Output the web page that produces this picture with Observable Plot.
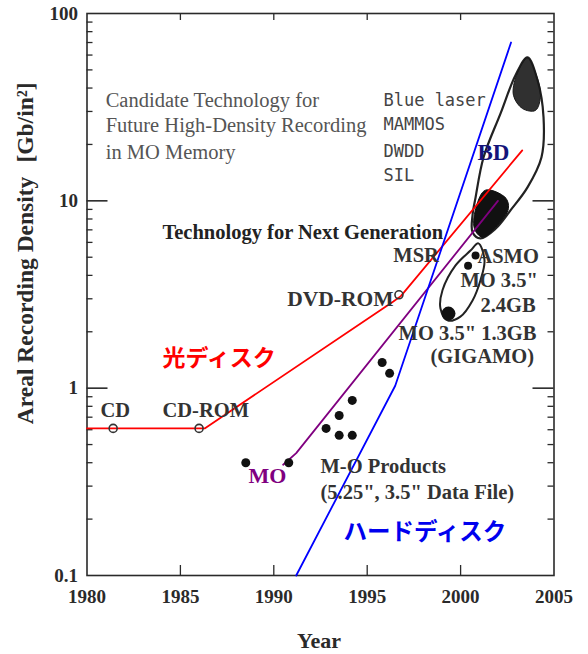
<!DOCTYPE html>
<html><head><meta charset="utf-8">
<script src="https://cdn.jsdelivr.net/npm/d3@7"></script>
<script src="https://cdn.jsdelivr.net/npm/@observablehq/plot@0.6"></script>
<style>body{margin:0;background:#fff}</style>
</head><body><div id="chart"></div>
<script>
// ---- data ----
const yearTicks = [1980, 1985, 1990, 1995, 2000, 2005];
const innerYearTicks = [1985, 1990, 1995, 2000];
const densityTicks = [0.1, 1, 10, 100];
const majorInnerTicks = [1, 10];
const minorTicks = [0.2,0.3,0.4,0.5,0.6,0.7,0.8,0.9, 2,3,4,5,6,7,8,9, 20,30,40,50,60,70,80,90];

const opticalDisk = [ // 光ディスク (red)
  {year: 1980.0, v: 0.61}, {year: 1986.3, v: 0.61}, {year: 1996.4, v: 2.9},
  {year: 1996.8, v: 3.1}, {year: 2003.3, v: 18.6}
];
const moTrend = [ // MO (purple)
  {year: 1990.5, v: 0.39}, {year: 1991.2, v: 0.45}, {year: 2002.0, v: 10.0}
];
const hardDisk = [ // ハードディスク (blue)
  {year: 1991.2, v: 0.1}, {year: 1996.5, v: 1.03}, {year: 2002.7, v: 70}
];
const openProducts = [
  {name: "CD", year: 1981.4, v: 0.61},
  {name: "CD-ROM", year: 1986.0, v: 0.61},
  {name: "DVD-ROM", year: 1996.7, v: 3.15}
];
const moProducts = [
  {year: 1988.5, v: 0.40}, {year: 1990.8, v: 0.40}, {year: 1992.8, v: 0.61},
  {year: 1993.5, v: 0.715}, {year: 1994.2, v: 0.86}, {year: 1993.5, v: 0.56},
  {year: 1994.2, v: 0.56}, {year: 1995.8, v: 1.37}, {year: 1996.2, v: 1.20}
];
const nextGenDots = [ // MO 3.5" 2.4GB, ASMO
  {year: 2000.8, v: 5.1}, {year: 2000.4, v: 4.5}
];
const gigamoSpot = [{year: 1999.35, v: 2.5}];
const candidateLoop = [
  {year: 2003.58, v: 58.4}, {year: 2004.12, v: 44}, {year: 2004.44, v: 27.9},
  {year: 2004.33, v: 17.1}, {year: 2003.58, v: 11.8}, {year: 2002.67, v: 8.9},
  {year: 2001.87, v: 7.1}, {year: 2001.06, v: 6.3}, {year: 2000.64, v: 6.8},
  {year: 2000.64, v: 8.4}, {year: 2000.80, v: 10.4}, {year: 2001.23, v: 17.1},
  {year: 2002.14, v: 29.3}, {year: 2002.94, v: 46.8}
];
const candidateTopBlob = [
  {year: 2003.58, v: 58}, {year: 2004.06, v: 46.7}, {year: 2004.28, v: 36.6},
  {year: 2004.01, v: 30.4}, {year: 2003.31, v: 31.1}, {year: 2002.83, v: 36.6},
  {year: 2002.99, v: 46.7}
];
const nextGenBlob = [
  {year: 2001.33, v: 11.4}, {year: 2002.40, v: 10.4}, {year: 2002.56, v: 9.1},
  {year: 2001.98, v: 7.4}, {year: 2001.17, v: 6.4}, {year: 2000.74, v: 7.1},
  {year: 2000.85, v: 9.4}
];
const nextGenLoop = [
  {year: 2000.95, v: 5.93}, {year: 2000.53, v: 5.43}, {year: 1999.73, v: 4.52},
  {year: 1999.03, v: 3.33}, {year: 1998.92, v: 2.67}, {year: 1999.30, v: 2.30},
  {year: 1999.99, v: 2.41}, {year: 2000.64, v: 2.94}, {year: 2001.06, v: 3.76},
  {year: 2001.28, v: 4.81}
];

const greyNotes = [
  {t: "Candidate Technology for", year: 1981.0, v: 34.4},
  {t: "Future High-Density Recording", year: 1981.0, v: 25.3},
  {t: "in MO Memory", year: 1981.0, v: 18.1}
];
const candidateTech = [
  {t: "Blue laser", year: 1995.87, v: 34.4},
  {t: "MAMMOS", year: 1995.87, v: 25.6},
  {t: "DWDD", year: 1995.87, v: 18.4},
  {t: "SIL", year: 1995.87, v: 13.7}
];
const darkNotes = [
  {t: "MSR", year: 1996.4, v: 5.11},
  {t: "ASMO", year: 2000.90, v: 5.05},
  {t: "MO 3.5\"", year: 1999.99, v: 3.76},
  {t: "2.4GB", year: 2001.06, v: 2.77},
  {t: "MO 3.5\" 1.3GB", year: 1996.68, v: 1.96},
  {t: "(GIGAMO)", year: 1998.39, v: 1.475},
  {t: "CD", year: 1980.72, v: 0.76},
  {t: "CD-ROM", year: 1984.04, v: 0.76},
  {t: "M-O Products", year: 1992.5, v: 0.382},
  {t: "(5.25\", 3.5\" Data File)", year: 1992.5, v: 0.277}
];
const dvdNote = [{t: "DVD-ROM", year: 1996.41, v: 2.98}];
const headline = [{t: "Technology for Next Generation", year: 1984.04, v: 6.78}];
const seriesNotes = [
  {t: "光ディスク", year: 1984.04, v: 1.44, c: "#ff0000", f: "Noto Sans CJK JP", s: 23},
  {t: "ハードディスク", year: 1993.73, v: 0.170, c: "#0000ee", f: "Noto Sans CJK JP", s: 23.5},
  {t: "MO", year: 1988.65, v: 0.342, c: "#800080", f: "Liberation Serif", s: 22},
  {t: "BD", year: 2000.9, v: 18.1, c: "#14147a", f: "Liberation Serif", s: 23}
];
const yLabel = [
  {t: "Areal Recording Density", v: 2.94},
  {t: "[Gb/in²]", v: 26.2}
];
const xLabel = [{t: "Year", year: 1992.42}];

// ---- layout ----
const W = 588, H = 654, mL = 86.5, mR = 34.5, mT = 13, mB = 79;
const pw = W - mL - mR, ph = H - mT - mB;
const ink = "#2a2a2a";
const serif = "Liberation Serif";

const chart = Plot.plot({
  width: W, height: H,
  marginLeft: mL, marginRight: mR, marginTop: mT, marginBottom: mB,
  x: {domain: [1980, 2005]},
  y: {type: "log", domain: [0.1, 100]},
  style: {fontFamily: serif, background: "#fff", color: ink},
  marks: [
    Plot.frame({stroke: ink, strokeWidth: 1.6}),
    Plot.tickY(majorInnerTicks, {y: d => d, insetRight: pw - 21, stroke: ink, strokeWidth: 1.6}),
    Plot.tickY(majorInnerTicks, {y: d => d, insetLeft: pw - 21, stroke: ink, strokeWidth: 1.6}),
    Plot.tickY(minorTicks, {y: d => d, insetRight: pw - 6, stroke: ink, strokeWidth: 1.3}),
    Plot.tickY(minorTicks, {y: d => d, insetLeft: pw - 6, stroke: ink, strokeWidth: 1.3}),
    Plot.tickX(innerYearTicks, {x: d => d, insetTop: ph - 10, stroke: ink, strokeWidth: 1.3}),
    Plot.tickX(innerYearTicks, {x: d => d, insetBottom: ph - 7, stroke: ink, strokeWidth: 1.3}),
    Plot.axisX({ticks: yearTicks, tickSize: 0, tickPadding: 14, tickFormat: d => String(d),
      fontSize: 19, fontWeight: "bold", label: null, fill: ink}),
    Plot.axisY({ticks: densityTicks, tickSize: 0, tickPadding: 9, tickFormat: d => String(d),
      fontSize: 19, fontWeight: "bold", label: null, fill: ink}),

    // candidate technology loops
    Plot.line(candidateLoop, {x: "year", y: "v", curve: "catmull-rom-closed", stroke: "#222", strokeWidth: 2.2}),
    Plot.line(candidateTopBlob, {x: "year", y: "v", curve: "catmull-rom-closed", stroke: "#1a1a1a", fill: "#1a1a1a", fillOpacity: 0.9, strokeWidth: 1}),
    Plot.line(nextGenBlob, {x: "year", y: "v", curve: "catmull-rom-closed", stroke: "#111", fill: "#111", strokeWidth: 1}),
    Plot.line(nextGenLoop, {x: "year", y: "v", curve: "catmull-rom-closed", stroke: "#222", strokeWidth: 2}),
    Plot.dot(gigamoSpot, {x: "year", y: "v", r: 7, fill: "#111"}),
    Plot.dot(nextGenDots, {x: "year", y: "v", r: 4, fill: "#111"}),

    // trend lines
    Plot.line(opticalDisk, {x: "year", y: "v", stroke: "#ff0000", strokeWidth: 1.8}),
    Plot.line(moTrend, {x: "year", y: "v", stroke: "#800080", strokeWidth: 1.8}),
    Plot.line(hardDisk, {x: "year", y: "v", stroke: "#0000ff", strokeWidth: 1.8}),

    // products
    Plot.dot(openProducts, {x: "year", y: "v", r: 4, stroke: "#333", strokeWidth: 1.6, fill: "none"}),
    Plot.dot(moProducts, {x: "year", y: "v", r: 4.5, fill: "#111"}),

    // text
    Plot.text(greyNotes, {x: "year", y: "v", text: "t", textAnchor: "start", fontSize: 20.5,
      fill: "#555", fontFamily: serif}),
    Plot.text(candidateTech, {x: "year", y: "v", text: "t", textAnchor: "start", fontSize: 17,
      fill: "#444", fontFamily: "DejaVu Sans Mono"}),
    Plot.text(darkNotes, {x: "year", y: "v", text: "t", textAnchor: "start", fontSize: 20.5,
      fontWeight: "bold", fill: "#333", fontFamily: serif}),
    Plot.text(dvdNote, {x: "year", y: "v", text: "t", textAnchor: "end", fontSize: 21.5,
      fontWeight: "bold", fill: "#333", fontFamily: serif}),
    Plot.text(headline, {x: "year", y: "v", text: "t", textAnchor: "start", fontSize: 20.5,
      fontWeight: "bold", fill: "#222", fontFamily: serif}),
    ...seriesNotes.map(d => Plot.text([d], {x: "year", y: "v", text: "t", textAnchor: "start",
      fontSize: d.s, fontWeight: "bold", fill: d.c, fontFamily: d.f})),
    Plot.text(yLabel, {y: "v", text: "t", frameAnchor: "left", textAnchor: "middle", dx: -61.5, rotate: -90,
      fontSize: 23.5, fontWeight: "bold", fill: ink, fontFamily: serif}),
    Plot.text(xLabel, {x: "year", text: "t", frameAnchor: "bottom", textAnchor: "middle", dy: 72,
      fontSize: 22, fontWeight: "bold", fill: ink, fontFamily: serif})
  ]
});
document.getElementById("chart").appendChild(chart);
</script>
</body></html>
